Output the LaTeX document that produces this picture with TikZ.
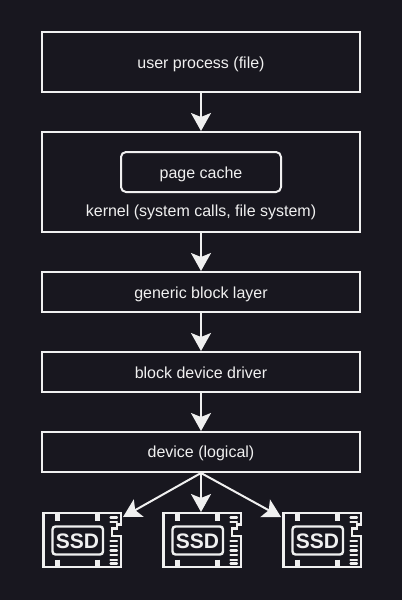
\documentclass[tikz,border=0pt]{standalone}
\usepackage{fontspec}
\setmainfont{Liberation Sans}
\usetikzlibrary{arrows.meta}
\definecolor{bgdark}{HTML}{18171F}
\definecolor{fgwhite}{HTML}{F0F0F0}
\newcommand{\ssdicon}[2]{%
  \node[ssdbox] (#1) at (#2) {};
  \begin{scope}[shift={(#1.north west)}]
    \coordinate (#1r) at (81,5);
    \coordinate (#1l) at (-1,5);
    \draw[ssdline] (1.3,1.2) -- (78.7,1.2) -- (78.7,12.5) -- (75,12.5) -- (75,16.5) -- (70,16.5) -- (70,24) -- (78.7,24) -- (78.7,54.8) -- (1.3,54.8) -- cycle;
    \draw[ssdline, rounded corners=3pt] (10.5,14.5) rectangle (61,42.5);
    \node[ssdtext] (#1t) at (35.5,28.5) {SSD};
    \foreach \x in {15.7,55.7} {
      \draw[ssdline, line width=5pt] (\x,1) -- (\x,8.5);
      \draw[ssdline, line width=5pt] (\x,47.5) -- (\x,55);
    }
    \foreach \y in {5.5,10.3,29,33.7,38.4,43.2,48,51.5} \draw[ssdline, line width=2.2pt, line cap=round] (68.5,\y) -- (75,\y);
  \end{scope}
}
\begin{document}
\begin{tikzpicture}[x=1pt, y=-1pt,
    every node/.style={font=\fontsize{16}{18}\selectfont, text=fgwhite, text height=14pt, text depth=3pt},
    box/.style={draw=fgwhite, line width=2pt, minimum width=318pt, inner sep=0pt},
    cachebox/.style={draw=fgwhite, line width=2pt, rounded corners=5pt, minimum width=160pt, minimum height=40pt, inner sep=0pt},
    arr/.style={-{Stealth[length=18pt, width=20pt, inset=4pt]}, line width=2pt, fgwhite},
    ssdbox/.style={minimum width=80pt, minimum height=56pt, inner sep=0pt, outer sep=0pt},
    ssdline/.style={draw=fgwhite, line width=2.4pt},
    ssdtext/.style={font=\fontsize{21}{22}\selectfont\bfseries, inner sep=0pt, text height=15pt, text depth=0pt}
  ]
    \fill[bgdark] (0,0) rectangle (402,600);
    \useasboundingbox (0,0) rectangle (402,600);
    \node[box, minimum height=60pt, text height=14.5pt, text depth=2.5pt] (user) at (201,62) {user process (file)};
    \node[box, minimum height=100pt] (kernel) at (201,182) {};
    \node[cachebox, text height=14.5pt, text depth=2.5pt] (cache) at (201,172) {page cache};
    \node (kernellabel) at (201,210.5) {kernel (system calls, file system)};
    \node[box, minimum height=40pt, text height=14.5pt, text depth=2.5pt] (generic) at (201,292) {generic block layer};
    \node[box, minimum height=40pt, text height=14.5pt, text depth=2.5pt] (driver) at (201,372) {block device driver};
    \node[box, minimum height=40pt] (device) at (201,452) {device (logical)};
    \ssdicon{ssda}{82,540}
    \ssdicon{ssdb}{202,540}
    \ssdicon{ssdc}{322,540}
    \draw[arr] (user) -- (kernel);
    \draw[arr] (kernel) -- (generic);
    \draw[arr] (generic) -- (driver);
    \draw[arr] (driver) -- (device);
    \draw[arr] (device.south) -- (ssdar);
    \draw[arr] (device.south) -- (ssdb.north -| device.south);
    \draw[arr] (device.south) -- (ssdcl);
\end{tikzpicture}
\end{document}
